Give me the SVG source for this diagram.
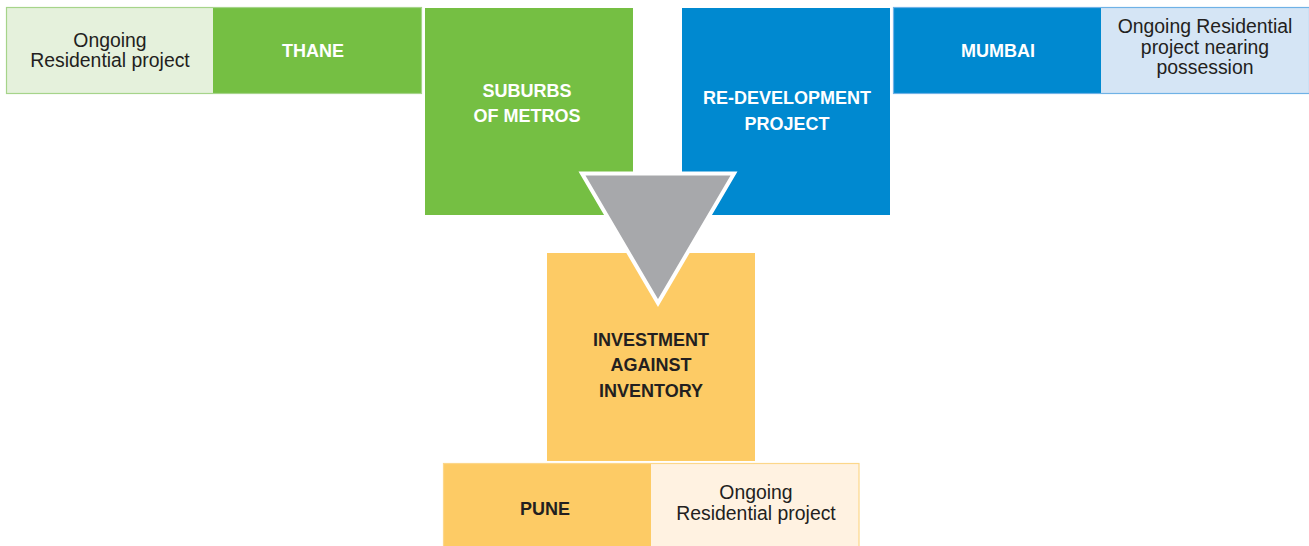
<svg xmlns="http://www.w3.org/2000/svg" width="1309" height="546" viewBox="0 0 1309 546">
<style>
.reg{font-family:"Liberation Sans",Arial,sans-serif;font-size:19.4px;fill:#231f20;text-anchor:middle}
.bw{font-family:"Liberation Sans",Arial,sans-serif;font-size:18px;font-weight:bold;fill:#ffffff;text-anchor:middle}
.bd{font-family:"Liberation Sans",Arial,sans-serif;font-size:18px;font-weight:bold;fill:#231f20;text-anchor:middle}
.green{fill:#75bf43}
.blue{fill:#0089d0}
.yellow{fill:#fdcb65}
</style>
<rect width="1309" height="546" fill="#ffffff"/>
<g id="thane-ongoing">
<rect x="6" y="8" width="207" height="85" fill="#e5f1dc"/>
<text class="reg" x="110" y="47">Ongoing</text>
<text class="reg" x="110" y="67">Residential project</text>
</g>
<g id="thane">
<rect x="213" y="8" width="208" height="85" class="green"/>
<text class="bw" x="313" y="57">THANE</text>
</g>
<rect x="6.5" y="7.5" width="415" height="86" fill="none" stroke="#a6d48a" stroke-width="1.2"/>
<g id="suburbs">
<rect x="425" y="8" width="208" height="207" class="green"/>
<text class="bw" x="527" y="97">SUBURBS</text>
<text class="bw" x="527" y="122">OF METROS</text>
</g>
<g id="redevelopment">
<rect x="682" y="8" width="208" height="207" class="blue"/>
<text class="bw" x="787" y="104">RE-DEVELOPMENT</text>
<text class="bw" x="787" y="130">PROJECT</text>
</g>
<g id="mumbai">
<rect x="893" y="8" width="208" height="85" class="blue"/>
<text class="bw" x="998" y="57">MUMBAI</text>
</g>
<g id="mumbai-ongoing">
<rect x="1101" y="8" width="208" height="85" fill="#d5e5f5"/>
<text class="reg" x="1205" y="33">Ongoing Residential</text>
<text class="reg" x="1205" y="53.5">project nearing</text>
<text class="reg" x="1205" y="74">possession</text>
</g>
<rect x="893.5" y="7.5" width="416" height="86" fill="none" stroke="#6fb2e6" stroke-width="1.2"/>
<g id="investment">
<rect x="547" y="253" width="208" height="208" class="yellow"/>
<text class="bd" x="651" y="346">INVESTMENT</text>
<text class="bd" x="651" y="371">AGAINST</text>
<text class="bd" x="651" y="397">INVENTORY</text>
</g>
<g id="pune">
<rect x="443" y="463" width="208" height="83" class="yellow"/>
<text class="bd" x="545" y="515">PUNE</text>
</g>
<g id="pune-ongoing">
<rect x="651" y="463" width="208" height="83" fill="#fff2e1"/>
<text class="reg" x="756" y="499">Ongoing</text>
<text class="reg" x="756" y="519.5">Residential project</text>
</g>
<rect x="443.5" y="463.5" width="415.5" height="84" fill="none" stroke="#fcd78a" stroke-width="1.2"/>
<g id="connectors">
<polygon points="582,173.5 734,173.5 658,303" fill="#a7a8ab" stroke="#ffffff" stroke-width="4" stroke-linejoin="miter"/>
</g>
</svg>
